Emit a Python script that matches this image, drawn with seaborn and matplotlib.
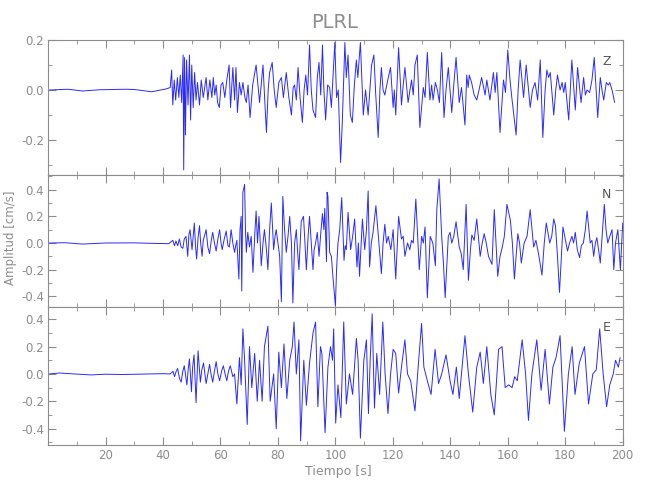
import matplotlib
matplotlib.use("Agg")
import matplotlib.pyplot as plt
import seaborn as sns
from matplotlib.ticker import MultipleLocator, FixedLocator

t_z = [0.5, 7, 12, 18, 27, 30, 36, 41, 42.5, 43.0, 43.4, 43.9, 44.4, 45.0, 45.5, 46.0, 46.5, 47.0, 47.2, 47.5,
       47.8, 48.2, 48.7, 49.2, 49.6, 50.0, 50.5, 51.0, 51.5, 52.0, 52.7, 53.3, 54.0, 55.0, 55.6, 56.3, 57.0, 57.5,
       58.0, 58.5, 59.0, 59.6, 60.2, 60.8, 61.5, 62.2, 63.0, 63.5, 64.3, 64.9, 65.4, 65.9, 66.6, 67.2, 67.8, 68.5,
       69.0, 69.6, 70.3, 71.2, 72.4, 73.6, 74.8, 75.4, 76.0, 76.6, 77.1, 78.0, 78.7, 79.4, 80.3, 81.2, 81.9, 82.9,
       83.8, 84.7, 85.3, 85.8, 86.4, 87.0, 87.7, 88.5, 89.1, 89.7, 90.3, 91.0, 91.6, 92.2, 93.1, 93.7, 94.3, 94.9,
       95.5, 96.0, 96.6, 97.3, 98.0, 98.6, 99.8, 100.4, 101.0, 101.8, 102.4, 103.3, 103.8, 104.4, 105.2, 105.9,
       106.6, 107.3, 107.8, 108.7, 109.7, 110.5, 111.4, 112.0, 112.6, 113.4, 114.0, 114.9, 115.5, 116.0, 116.6,
       117.2, 118.4, 119.2, 120.1, 120.5, 121.0, 122.0, 123.0, 123.6, 124.2, 125.3, 126.5, 127.1, 127.7, 128.5,
       129.4, 130.6, 131.2, 132.0, 132.9, 133.5, 134.0, 134.8, 135.5, 136.2, 137.0, 137.8, 138.5, 139.3, 140.5,
       141.2, 142.0, 143.1, 143.9, 145.1, 145.7, 146.2, 146.6, 147.4, 148.3, 149.2, 150.0, 150.9, 152.1, 152.7,
       153.8, 155.0, 155.6, 156.2, 157.3, 158.5, 159.2, 160.0, 160.7, 161.4, 162.9, 163.6, 164.3, 165.5, 166.4,
       167.8, 168.6, 169.5, 170.4, 171.3, 172.2, 173.0, 173.6, 174.2, 174.8, 176.0, 176.7, 177.3, 178.2, 178.9,
       179.5, 180.0, 181.2, 182.3, 183.5, 184.3, 185.5, 186.4, 187.0, 187.6, 188.5, 189.3, 190.1, 191.3, 192.2,
       192.8, 193.4, 194.3, 195.0, 195.5, 196.3, 197.2]
a_z = [0.0, 0.003, -0.004, 0.001, 0.003, 0.002, -0.007, 0.004, 0.01, 0.08, -0.06, 0.04, -0.04, 0.05, -0.03, 0.06,
       -0.05, 0.14, -0.32, 0.13, -0.18, 0.12, -0.06, 0.14, -0.12, 0.1, -0.07, 0.07, -0.04, 0.03, -0.06, 0.04, -0.03,
       0.05, -0.04, 0.04, -0.03, 0.05, -0.02, 0.02, -0.05, -0.07, 0.02, 0.03, -0.03, 0.04, 0.1, -0.07, 0.09, -0.04,
       0.09, -0.09, 0.03, -0.02, 0.03, -0.03, -0.05, 0.02, -0.11, 0.02, 0.1, -0.05, 0.1, -0.04, -0.17, 0.0, 0.07,
       0.11, 0.0, -0.07, 0.03, 0.05, -0.03, 0.07, -0.03, -0.10, 0.01, 0.02, -0.04, 0.09, -0.03, -0.13, 0.0, 0.06,
       -0.02, 0.18, 0.0, -0.08, -0.11, 0.05, 0.11, -0.02, 0.18, 0.0, -0.12, 0.02, 0.01, -0.07, 0.19, -0.03, 0.0,
       -0.29, -0.13, 0.19, 0.05, 0.14, -0.10, -0.13, 0.02, 0.12, 0.05, 0.19, -0.10, 0.0, -0.10, 0.0, 0.10, 0.14,
       -0.01, -0.19, 0.0, 0.09, 0.0, -0.02, 0.05, 0.09, -0.07, 0.0, -0.10, 0.17, -0.06, 0.02, 0.09, -0.05, 0.04,
       -0.02, 0.10, 0.14, -0.15, 0.01, -0.03, 0.15, -0.04, 0.02, -0.04, 0.03, 0.0, -0.05, 0.15, -0.11, 0.0, 0.09,
       -0.09, 0.02, 0.13, -0.05, 0.01, -0.14, 0.06, 0.01, 0.06, 0.03, -0.02, -0.04, 0.0, 0.05, -0.02, 0.04, -0.04,
       0.07, -0.01, 0.07, -0.17, 0.04, -0.01, 0.16, 0.05, -0.03, -0.18, 0.0, 0.12, -0.03, 0.10, -0.07, 0.0, 0.03,
       -0.04, 0.12, -0.19, 0.0, 0.08, 0.05, 0.07, -0.10, 0.0, 0.06, 0.0, 0.03, -0.01, 0.03, -0.12, 0.12, -0.08,
       0.09, -0.05, 0.05, -0.02, 0.0, -0.01, 0.04, 0.13, -0.11, 0.05, 0.0, -0.04, 0.03, 0.02, 0.03, 0.0, -0.05]

t_n = [0.5, 6, 12, 20, 30, 35, 42, 43.4, 44.0, 44.5, 45.1, 45.7, 46.3, 46.9, 47.4, 48.0, 48.6, 49.0, 49.4, 50.1,
       50.5, 50.9, 51.3, 51.7, 52.2, 52.7, 53.1, 53.6, 54.0, 54.4, 55.0, 55.6, 56.2, 56.8, 57.3, 57.9, 58.5, 59.1,
       59.7, 60.2, 60.6, 61.3, 62.0, 62.6, 63.1, 63.7, 64.3, 64.9, 65.3, 65.7, 66.4, 66.8, 67.2, 67.4, 67.8, 68.4,
       68.7, 69.0, 69.5, 70.1, 70.7, 71.3, 71.9, 72.4, 72.9, 73.4, 74.2, 74.8, 75.3, 76.0, 76.5, 77.1, 77.7, 78.5,
       79.0, 79.4, 80.0, 80.6, 81.2, 81.7, 82.3, 82.9, 83.5, 84.1, 84.7, 85.2, 85.8, 86.4, 86.8, 87.3, 88.1, 88.9,
       89.4, 89.9, 90.5, 91.0, 91.6, 92.2, 92.6, 93.1, 93.7, 94.3, 95.0, 95.5, 96.0, 96.3, 96.9, 97.1, 97.4, 98.0,
       98.6, 99.2, 100.0, 100.4, 100.9, 101.5, 102.2, 103.0, 103.4, 103.8, 104.4, 105.3, 106.0, 106.7, 107.5,
       108.0, 108.4, 109.4, 110.2, 110.8, 111.4, 111.9, 112.5, 113.1, 114.1, 115.2, 116.0, 116.6, 117.2, 117.8,
       118.4, 119.3, 120.1, 121.0, 122.0, 123.0, 123.6, 124.2, 125.1, 125.9, 126.5, 127.1, 128.0, 129.2, 130.0,
       130.6, 131.2, 132.0, 133.0, 133.9, 134.8, 135.3, 136.1, 137.0, 137.6, 138.2, 139.3, 139.9, 140.5, 141.2,
       142.0, 143.1, 143.8, 144.5, 145.5, 146.3, 147.0, 147.5, 148.3, 149.2, 150.4, 151.1, 151.8, 152.5, 153.3,
       154.5, 155.3, 156.5, 157.3, 158.0, 158.8, 159.7, 160.9, 161.6, 162.3, 163.5, 164.1, 164.7, 165.7, 166.7,
       167.8, 169.0, 169.8, 170.7, 171.9, 172.7, 173.4, 174.6, 175.3, 176.0, 176.6, 177.3, 178.0, 179.2, 180.0,
       180.8, 181.5, 182.3, 182.9, 183.5, 184.2, 185.0, 185.6, 186.3, 187.0, 187.6, 188.7, 189.3, 189.9, 190.5,
       191.0, 191.6, 192.2, 193.0, 193.6, 194.2, 194.8, 195.5, 196.3, 196.9, 197.5, 198.3, 199.2, 200.0]
a_n = [0.0, 0.002, -0.008, 0.0, 0.001, -0.002, -0.005, 0.02, -0.02, 0.015, -0.02, 0.03, -0.03, -0.04, 0.03, 0.05,
       -0.10, 0.06, 0.10, -0.05, 0.05, 0.15, -0.02, -0.12, 0.04, 0.13, 0.0, -0.10, 0.02, 0.05, 0.10, -0.03, -0.08,
       0.02, 0.08, 0.0, -0.06, 0.03, 0.10, 0.0, -0.05, 0.03, 0.09, -0.02, -0.03, 0.10, 0.0, -0.07, -0.02, 0.02,
       -0.27, 0.1, 0.20, -0.36, 0.38, 0.44, 0.1, -0.07, 0.08, -0.03, 0.05, -0.22, 0.05, 0.24, 0.0, 0.20, -0.17, 0.0,
       0.10, -0.05, -0.20, 0.1, 0.30, -0.05, 0.05, 0.10, 0.0, -0.10, -0.44, 0.35, 0.1, -0.07, 0.05, 0.20, 0.0,
       -0.45, 0.0, 0.10, -0.05, -0.20, 0.16, 0.20, 0.0, -0.20, 0.05, 0.20, 0.0, -0.20, -0.05, 0.0, 0.08, -0.10,
       0.10, 0.22, 0.1, 0.26, -0.14, 0.38, 0.35, -0.07, -0.1, -0.27, -0.47, -0.2, 0.0, 0.10, 0.34, -0.13, -0.02,
       -0.05, 0.23, -0.05, 0.05, 0.18, -0.18, 0.0, -0.25, 0.18, -0.05, 0.1, 0.39, -0.18, 0.0, 0.08, 0.28, -0.02,
       -0.23, 0.0, 0.14, 0.0, 0.05, -0.05, 0.10, -0.27, 0.20, 0.03, 0.05, -0.10, 0.0, -0.05, 0.02, 0.0, 0.33,
       -0.20, 0.05, 0.0, 0.12, -0.41, 0.05, 0.0, -0.17, 0.25, 0.48, 0.05, -0.15, -0.41, 0.05, 0.08, 0.0, 0.05,
       0.16, -0.03, -0.08, -0.20, 0.29, -0.28, -0.05, 0.06, 0.02, 0.18, -0.10, 0.0, 0.07, 0.0, -0.10, -0.16, 0.25,
       -0.25, -0.1, -0.04, 0.05, 0.29, 0.17, 0.0, -0.27, 0.07, 0.0, -0.15, 0.0, 0.05, 0.25, -0.03, 0.02, -0.08,
       -0.24, 0.0, 0.15, 0.0, 0.05, 0.18, 0.13, -0.1, -0.37, 0.12, 0.03, -0.06, 0.0, 0.05, 0.0, 0.08, -0.05, -0.11,
       -0.02, 0.0, 0.10, 0.24, 0.0, 0.02, -0.10, 0.0, 0.04, -0.05, -0.15, 0.10, 0.29, 0.1, 0.0, 0.05, 0.10, -0.20,
       0.0, 0.10, -0.20, 0.15]

t_e = [0.5, 4, 9, 15, 20, 26, 35, 40, 42.5, 43.5, 44.0, 44.6, 45.1, 45.7, 46.3, 46.9, 47.4, 47.9, 48.3, 48.8, 49.2,
       49.9, 50.3, 50.8, 51.5, 52.2, 53.0, 53.5, 54.1, 54.6, 55.0, 55.6, 56.2, 56.7, 57.3, 57.9, 58.5, 59.1, 59.7,
       60.4, 61.0, 61.6, 62.2, 62.8, 63.4, 64.3, 64.9, 65.7, 66.6, 67.2, 67.8, 68.4, 69.3, 70.1, 70.9, 71.9, 72.8,
       73.6, 74.5, 75.3, 76.5, 77.3, 78.5, 79.4, 80.3, 81.2, 82.1, 83.1, 84.1, 85.0, 85.6, 86.4, 87.3, 87.9, 89.0,
       89.9, 91.0, 92.2, 93.1, 93.9, 94.8, 95.3, 96.4, 97.4, 98.3, 99.0, 99.4, 100.1, 100.9, 101.9, 102.9, 103.8,
       104.9, 106.0, 107.3, 107.9, 108.7, 109.9, 110.8, 111.5, 112.1, 112.8, 113.6, 114.4, 115.4, 116.5, 117.3,
       118.3, 119.2, 120.1, 121.0, 122.0, 123.0, 124.2, 125.1, 126.2, 127.7, 128.8, 130.0, 130.8, 132.0, 133.3,
       134.7, 135.9, 137.0, 138.5, 140.0, 140.9, 142.1, 143.1, 145.1, 146.3, 147.8, 149.2, 150.4, 151.5, 152.7,
       154.1, 155.3, 156.8, 158.0, 159.1, 160.3, 161.5, 162.4, 163.3, 165.0, 166.2, 167.2, 168.4, 170.1, 171.6,
       173.0, 174.5, 175.7, 176.8, 178.2, 179.7, 181.1, 182.4, 183.4, 184.9, 186.7, 188.1, 189.6, 190.8, 192.0,
       193.2, 194.4, 195.5, 196.7, 197.5, 198.5, 199.1]
a_e = [0.0, 0.007, 0.0, -0.007, -0.002, -0.004, 0.0, 0.002, 0.0, 0.02, -0.02, 0.02, 0.04, -0.03, -0.06, 0.02, 0.06,
       -0.02, -0.08, 0.04, 0.11, -0.13, 0.05, 0.14, -0.21, 0.17, -0.06, 0.03, 0.08, 0.0, -0.07, 0.0, 0.07, 0.0,
       -0.06, 0.02, 0.09, 0.0, -0.05, 0.02, 0.06, 0.0, -0.05, 0.02, 0.06, -0.02, 0.0, -0.22, 0.12, -0.08, 0.33,
       0.10, -0.37, 0.20, -0.10, 0.15, -0.20, 0.10, -0.20, 0.20, 0.35, -0.20, 0.0, -0.40, 0.16, -0.10, 0.22, -0.18,
       0.10, 0.20, 0.38, 0.0, 0.25, -0.49, 0.10, -0.23, 0.08, 0.30, 0.38, -0.24, 0.20, 0.15, -0.43, 0.05, 0.20,
       0.10, 0.33, -0.36, -0.08, -0.32, 0.38, -0.22, 0.0, -0.15, 0.26, 0.10, -0.47, 0.10, 0.25, -0.29, 0.10, 0.44,
       -0.25, 0.15, -0.15, 0.38, 0.0, -0.29, 0.0, 0.18, 0.15, -0.14, 0.05, 0.25, 0.0, -0.05, -0.27, 0.05, 0.37,
       0.05, -0.05, -0.15, 0.18, -0.07, 0.0, 0.14, -0.06, -0.15, 0.05, -0.18, 0.28, 0.0, -0.28, 0.05, 0.16, -0.07,
       0.20, -0.15, -0.30, 0.18, 0.20, -0.10, -0.08, -0.10, -0.02, -0.05, 0.25, 0.0, -0.34, 0.0, 0.25, -0.12, 0.18,
       -0.22, 0.05, 0.12, 0.28, -0.42, 0.0, 0.20, -0.15, 0.08, 0.20, -0.22, 0.0, 0.03, 0.33, 0.0, -0.24, -0.08, 0.0,
       0.10, 0.05, 0.12]

componentes = ["Z", "N", "E"]
gris = "#8c8c8c"
azul = "#2a2aff"

sns.set_style("ticks")
plt.rcParams["font.family"] = ["DejaVu Sans"]

fig = plt.figure(figsize=(6.5, 5), dpi=100)
cajas = [[0.074, 0.65, 0.884, 0.27], [0.074, 0.386, 0.884, 0.264], [0.074, 0.11, 0.884, 0.276]]
limites = [(-0.34, 0.2), (-0.48, 0.51), (-0.52, 0.49)]
mayores = [[-0.2, 0.0, 0.2], [-0.4, -0.2, 0.0, 0.2, 0.4], [-0.4, -0.2, 0.0, 0.2, 0.4]]
series = [(t_z, a_z), (t_n, a_n), (t_e, a_e)]
pos_letra = [0.89, 0.9, 0.9]

for i, (t, a) in enumerate(series):
    ax = fig.add_axes(cajas[i])
    sns.lineplot(x=t, y=a, ax=ax, color=azul, linewidth=0.7, estimator=None, sort=False)
    ax.set_xlim(0, 200)
    ax.set_ylim(*limites[i])
    ax.xaxis.set_major_locator(FixedLocator(list(range(20, 201, 20))))
    ax.xaxis.set_minor_locator(MultipleLocator(10))
    ax.yaxis.set_major_locator(FixedLocator(mayores[i]))
    ax.yaxis.set_minor_locator(MultipleLocator(0.1))
    ax.yaxis.set_major_formatter(plt.FuncFormatter(lambda v, p: f"{v:.1f}"))
    ax.tick_params(which="both", direction="in", top=True, right=True, colors=gris, labelsize=8.5, pad=3)
    ax.tick_params(which="major", length=6)
    ax.tick_params(which="minor", length=3)
    for s in ax.spines.values():
        s.set_color(gris)
        s.set_linewidth(0.8)
    if i < 2:
        ax.tick_params(labelbottom=False)
    ax.text(0.972, pos_letra[i], componentes[i], transform=ax.transAxes, color="#555555",
            fontsize=9, ha="center", va="top")
    ax.set_xlabel("")
    ax.set_ylabel("")

fig.text(0.515, 0.955, "PLRL", ha="center", va="center", color=gris, fontsize=14)
fig.text(0.016, 0.525, "Amplitud [cm/s]", rotation=90, ha="center", va="center", color=gris, fontsize=8.5)
fig.text(0.52, 0.058, "Tiempo [s]", ha="center", va="center", color=gris, fontsize=9)

fig.savefig("out.png", dpi=100)
plt.close(fig)
